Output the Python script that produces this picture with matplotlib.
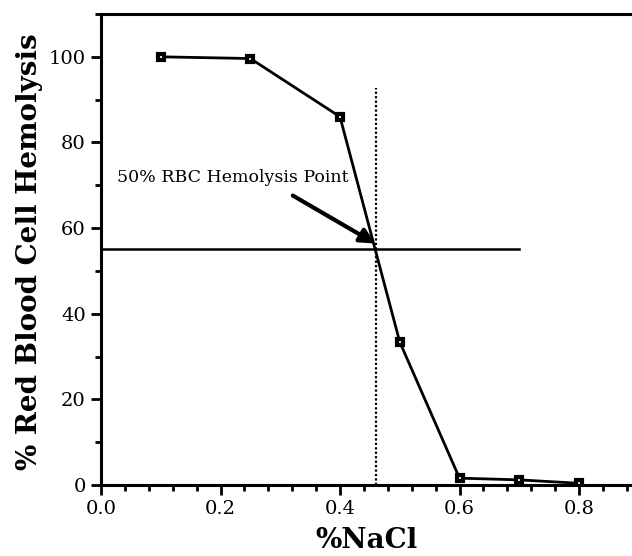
import numpy as np
import matplotlib.pyplot as plt
from matplotlib.ticker import MultipleLocator

# data
nacl = [0.1, 0.25, 0.4, 0.5, 0.6, 0.7, 0.8]
hemolysis = [100.0, 99.6, 86.0, 33.4, 1.6, 1.2, 0.4]
point_x = 0.46  # 50% hemolysis point
point_y = 55.1
hline_end = 0.70
vline_top = 92.8
arrow_tail = (0.321, 67.6)
arrow_head = (0.459, 56.4)
label_pos = (0.027, 71.8)

plt.rcParams['font.family'] = ['DejaVu Serif']

fig = plt.figure(figsize=(6.32, 5.56), dpi=100)
W, H = 632, 556
ax = fig.add_axes([101 / W, (H - 485) / H, 597.5 / W, 471 / H])

ax.plot(nacl, hemolysis, color='black', lw=2.0, marker='s', ms=5.0,
        mfc='white', mec='black', mew=3.0, zorder=3)

ax.plot([0, hline_end], [point_y, point_y], color='black', lw=1.8)
ax.plot([point_x, point_x], [0, vline_top], color='black', lw=1.6,
        linestyle=(0, (1, 1)))

ax.annotate('', xy=arrow_head, xytext=arrow_tail,
            arrowprops=dict(arrowstyle='-|>', color='black', lw=3.0,
                            mutation_scale=22, shrinkA=0, shrinkB=0))
ax.text(label_pos[0], label_pos[1], '50% RBC Hemolysis Point', fontsize=12.5,
        ha='left', va='center')

ax.set_xlim(0, 1.0)
ax.set_ylim(0, 110)
ax.xaxis.set_major_locator(MultipleLocator(0.2))
ax.xaxis.set_minor_locator(MultipleLocator(0.04))
ax.yaxis.set_major_locator(MultipleLocator(20))
ax.yaxis.set_minor_locator(MultipleLocator(10))
ax.set_xticks([0.0, 0.2, 0.4, 0.6, 0.8])
ax.set_xticklabels(['0.0', '0.2', '0.4', '0.6', '0.8'])

ax.tick_params(which='major', direction='out', length=7, width=2, labelsize=14, pad=4)
ax.tick_params(which='minor', direction='out', length=4, width=2)
ax.tick_params(top=False, right=False)

for side in ['left', 'bottom', 'top']:
    ax.spines[side].set_linewidth(2.2)
ax.spines['right'].set_visible(False)

fig.text((101 + 632) / 2 / W, 1 - 540 / H, '%NaCl', fontsize=20, fontweight='bold',
         ha='center', va='center')
fig.text(30 / W, 1 - 252 / H, '% Red Blood Cell Hemolysis', fontsize=20,
         fontweight='bold', rotation=90, ha='center', va='center')

fig.savefig('out.png', dpi=100)
